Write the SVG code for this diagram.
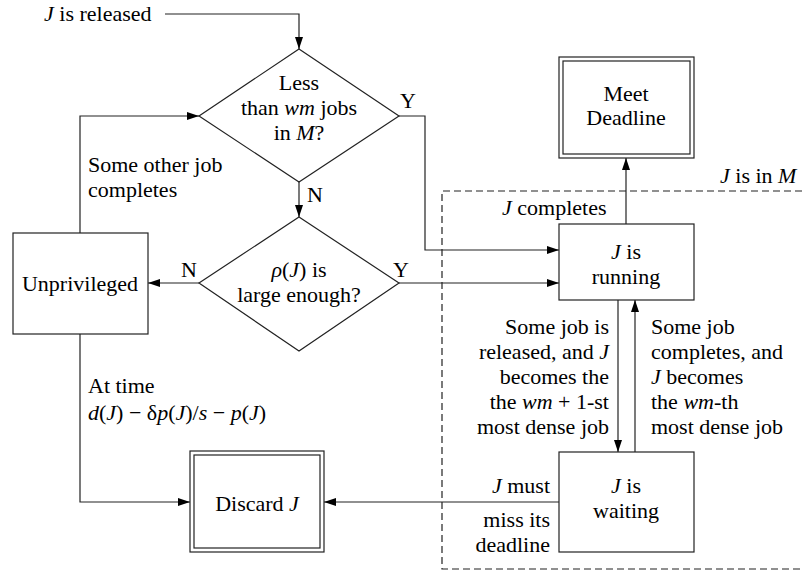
<svg xmlns="http://www.w3.org/2000/svg" width="802" height="573" viewBox="0 0 802 573" font-family="'Liberation Serif', 'DejaVu Serif', 'Times New Roman', serif">
<defs>
<marker id="ah" markerUnits="userSpaceOnUse" markerWidth="12" markerHeight="8" refX="12" refY="4" orient="auto">
<path d="M0,0 L12,4 L0,8 z" fill="#000"/>
</marker>
<style>
text{font-family:'Liberation Serif','DejaVu Serif','Times New Roman',serif;font-size:22px;fill:#000}
.m{font-style:italic}
.c{text-anchor:middle}
.r{text-anchor:end}
.box{fill:#fff;stroke:#222;stroke-width:1.2}
.ln{fill:none;stroke:#222;stroke-width:1.2}
.arr{fill:none;stroke:#222;stroke-width:1.2;marker-end:url(#ah)}
.dash{fill:none;stroke:#222;stroke-width:1.2;stroke-dasharray:7,4}
</style>
</defs>
<rect width="802" height="573" fill="#fff"/>

<g id="region-M">
<path class="dash" d="M802,191 L442,191 L442,569 L802,569"/>
<text x="720" y="183"><tspan class="m">J</tspan> is in <tspan class="m">M</tspan></text>
</g>

<g id="connectors">
<path class="arr" d="M165,14 L299,14 L299,49"/>
<path class="arr" d="M299,182 L299,217"/>
<path class="arr" d="M399,116 L425,116 L425,250 L559,250"/>
<path class="arr" d="M399,283 L559,283"/>
<path class="arr" d="M199,283 L148,283"/>
<path class="arr" d="M80,233 L80,116 L199,116"/>
<path class="arr" d="M80,334 L80,502 L190,502"/>
<path class="arr" d="M559,502 L324,502"/>
<path class="arr" d="M626,224 L626,158"/>
<path class="arr" d="M618,300 L618,452"/>
<path class="arr" d="M635,452 L635,300"/>
<text x="44" y="21"><tspan class="m">J</tspan> is released</text>
<text x="400" y="108">Y</text>
<text x="307" y="202">N</text>
<text x="393" y="277">Y</text>
<text x="181" y="277">N</text>
<text x="88" y="172">Some other job</text>
<text x="88" y="197">completes</text>
<text x="88" y="393">At time</text>
<text x="88" y="420" class="m">d<tspan font-style="normal">(</tspan>J<tspan font-style="normal">) − δ</tspan>p<tspan font-style="normal">(</tspan>J<tspan font-style="normal">)/</tspan>s<tspan font-style="normal"> − </tspan>p<tspan font-style="normal">(</tspan>J<tspan font-style="normal">)</tspan></text>
<text x="502" y="215"><tspan class="m">J</tspan> completes</text>
<text x="609" y="334" class="r">Some job is</text>
<text x="609" y="359" class="r">released, and <tspan class="m">J</tspan></text>
<text x="609" y="384" class="r">becomes the</text>
<text x="609" y="409" class="r">the <tspan class="m">wm</tspan> + 1-st</text>
<text x="609" y="434" class="r">most dense job</text>
<text x="651" y="334">Some job</text>
<text x="651" y="359">completes, and</text>
<text x="651" y="384"><tspan class="m">J</tspan> becomes</text>
<text x="651" y="409">the <tspan class="m">wm</tspan>-th</text>
<text x="651" y="434">most dense job</text>
<text x="550" y="493" class="r"><tspan class="m">J</tspan> must</text>
<text x="550" y="527" class="r">miss its</text>
<text x="550" y="552" class="r">deadline</text>
</g>

<g id="less-than-wm">
<path class="box" d="M299,49 L399,116 L299,182 L199,116 z"/>
<text x="299" y="90" class="c">Less</text>
<text x="299" y="115" class="c">than <tspan class="m">wm</tspan> jobs</text>
<text x="299" y="140" class="c">in <tspan class="m">M</tspan>?</text>
</g>

<g id="large-enough">
<path class="box" d="M299,217 L399,283 L299,351 L199,283 z"/>
<text x="299" y="277" class="c"><tspan class="m">ρ</tspan>(<tspan class="m">J</tspan>) is</text>
<text x="299" y="302" class="c">large enough?</text>
</g>

<g id="unprivileged">
<rect class="box" x="13" y="233" width="135" height="101"/>
<text x="80" y="291" class="c">Unprivileged</text>
</g>

<g id="meet-deadline">
<rect class="box" x="559" y="57" width="135" height="101"/>
<rect class="box" x="563" y="61" width="127" height="93"/>
<text x="626" y="101" class="c">Meet</text>
<text x="626" y="125" class="c">Deadline</text>
</g>

<g id="running">
<rect class="box" x="559" y="224" width="135" height="76"/>
<text x="626" y="259" class="c"><tspan class="m">J</tspan> is</text>
<text x="626" y="284" class="c">running</text>
</g>

<g id="waiting">
<rect class="box" x="559" y="452" width="135" height="100"/>
<text x="626" y="493" class="c"><tspan class="m">J</tspan> is</text>
<text x="626" y="518" class="c">waiting</text>
</g>

<g id="discard">
<rect class="box" x="190" y="451" width="134" height="101"/>
<rect class="box" x="194" y="455" width="126" height="93"/>
<text x="257" y="511" class="c">Discard <tspan class="m">J</tspan></text>
</g>
</svg>
